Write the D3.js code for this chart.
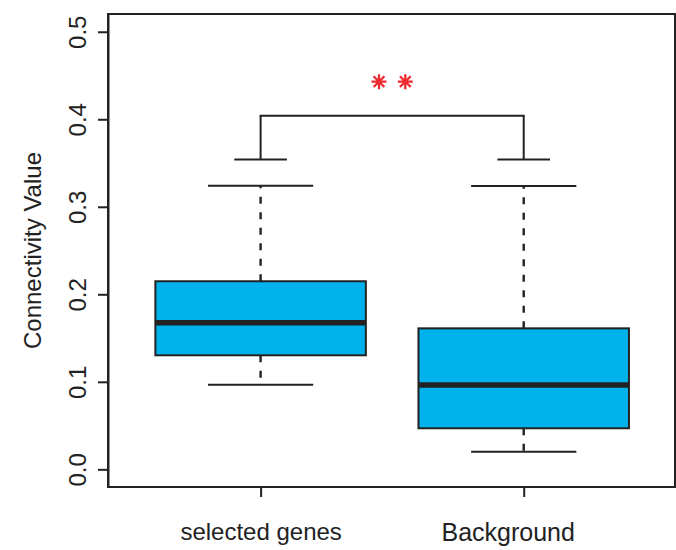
<!DOCTYPE html>
<html>
<head>
<meta charset="utf-8">
<script src="https://cdn.jsdelivr.net/npm/d3@7"></script>
<style>
  body { margin: 0; background: #fff; }
  text { font-family: "Liberation Sans", Arial, sans-serif; fill: #222; }
</style>
</head>
<body>
<div id="chart"></div>
<script>
// Boxplot summary per group
var groups = ['selected genes', 'Background'];
var whiskerLow = [0.0967, 0.0201];
var quart1 = [0.1303, 0.0469];
var medians = [0.1675, 0.0963];
var quart3 = [0.2149, 0.1611];
var whiskerHigh = [0.324, 0.3238];

// significance bracket
var bracketLegs = 0.354;
var bracketTop = 0.404;
var starLevel = 0.443;
var starPos = [1.45, 1.55];

var yTicks = [0, 0.1, 0.2, 0.3, 0.4, 0.5];

var o = {
    width: 676,
    height: 550,
    left: 108, right: 675, top: 14, bottom: 487
};

var svg = d3.select('#chart')
    .append('svg')
    .attr('width', o.width)
    .attr('height', o.height);

var x = d3.scaleLinear()
    .domain([0.42, 2.575])
    .range([o.left, o.right]);

var y = d3.scaleLinear()
    .domain([-0.0202, 0.5203])
    .range([o.bottom, o.top]);

var ink = '#222';
var boxW = 0.8, capW = 0.4, legW = 0.2;

var boxes = svg.append('g');

groups.forEach(function(name, i) {
    var cx = i + 1;
    var g = boxes.append('g');

    // dashed whiskers
    g.append('line')
        .attr('x1', x(cx)).attr('x2', x(cx))
        .attr('y1', y(quart3[i])).attr('y2', y(whiskerHigh[i]))
        .attr('stroke', ink).attr('stroke-width', 2.4)
        .attr('stroke-dasharray', '7,8.5');
    g.append('line')
        .attr('x1', x(cx)).attr('x2', x(cx))
        .attr('y1', y(quart1[i])).attr('y2', y(whiskerLow[i]))
        .attr('stroke', ink).attr('stroke-width', 2.4)
        .attr('stroke-dasharray', '7,8.5');

    // staples
    [whiskerLow[i], whiskerHigh[i]].forEach(function(v) {
        g.append('line')
            .attr('x1', x(cx - capW / 2)).attr('x2', x(cx + capW / 2))
            .attr('y1', y(v)).attr('y2', y(v))
            .attr('stroke', ink).attr('stroke-width', 2);
    });

    g.append('rect')
        .attr('x', x(cx - boxW / 2))
        .attr('width', x(cx + boxW / 2) - x(cx - boxW / 2))
        .attr('y', y(quart3[i]))
        .attr('height', y(quart1[i]) - y(quart3[i]))
        .attr('fill', '#00B2EB')
        .attr('stroke', ink).attr('stroke-width', 2);

    g.append('line')
        .attr('x1', x(cx - boxW / 2)).attr('x2', x(cx + boxW / 2))
        .attr('y1', y(medians[i])).attr('y2', y(medians[i]))
        .attr('stroke', ink).attr('stroke-width', 5.5);

    // bracket legs
    g.append('line')
        .attr('x1', x(cx - legW / 2)).attr('x2', x(cx + legW / 2))
        .attr('y1', y(bracketLegs)).attr('y2', y(bracketLegs))
        .attr('stroke', ink).attr('stroke-width', 2);
    g.append('line')
        .attr('x1', x(cx)).attr('x2', x(cx))
        .attr('y1', y(bracketLegs)).attr('y2', y(bracketTop))
        .attr('stroke', ink).attr('stroke-width', 2);
});

svg.append('line')
    .attr('x1', x(1) - 1).attr('x2', x(2) + 1)
    .attr('y1', y(bracketTop)).attr('y2', y(bracketTop))
    .attr('stroke', ink).attr('stroke-width', 2);

// red stars (R pch 8 style: plus + cross)
var r = 7.5;
starPos.forEach(function(p) {
    var sx = x(p), sy = y(starLevel);
    var path = 'M' + (sx - r) + ',' + sy + 'H' + (sx + r) +
        'M' + sx + ',' + (sy - r) + 'V' + (sy + r) +
        'M' + (sx - r * 0.72) + ',' + (sy - r * 0.72) + 'L' + (sx + r * 0.72) + ',' + (sy + r * 0.72) +
        'M' + (sx - r * 0.72) + ',' + (sy + r * 0.72) + 'L' + (sx + r * 0.72) + ',' + (sy - r * 0.72);
    svg.append('path')
        .attr('d', path)
        .attr('stroke', '#EE2A2F')
        .attr('stroke-width', 2.3)
        .attr('fill', 'none');
});

// frame
svg.append('rect')
    .attr('x', o.left).attr('y', o.top)
    .attr('width', o.right - o.left).attr('height', o.bottom - o.top)
    .attr('fill', 'none').attr('stroke', ink).attr('stroke-width', 2);

// y axis
var yAxis = svg.append('g')
    .attr('transform', 'translate(' + o.left + ',0)')
    .call(d3.axisLeft(y).tickValues(yTicks).tickSize(10).tickSizeOuter(0)
        .tickFormat(d3.format('.1f')));
yAxis.selectAll('path, line').attr('stroke', ink).attr('stroke-width', 2);
yAxis.selectAll('text')
    .attr('font-size', 24)
    .attr('fill', ink)
    .attr('text-anchor', 'middle')
    .attr('dy', null)
    .attr('x', null)
    .attr('transform', 'translate(-31,0) rotate(-90)')
    .attr('dominant-baseline', 'central');

// x axis
var xAxis = svg.append('g')
    .attr('transform', 'translate(0,' + o.bottom + ')')
    .call(d3.axisBottom(x).tickValues([1, 2]).tickSize(10).tickSizeOuter(0)
        .tickFormat(function(d) { return groups[d - 1]; }));
xAxis.select('.domain').remove();
xAxis.selectAll('line').attr('stroke', ink).attr('stroke-width', 2);
xAxis.selectAll('text')
    .attr('font-size', function(d) { return d === 2 ? 25 : 24; })
    .attr('fill', ink)
    .attr('y', 36)
    .attr('dy', '0.71em')
    // in the original the second label sits a little left of its tick
    .attr('dx', function(d) { return d === 2 ? -16 : 0; });

svg.append('text')
    .attr('transform', 'translate(41,' + ((o.top + o.bottom) / 2) + ') rotate(-90)')
    .attr('text-anchor', 'middle')
    .attr('font-size', 24)
    .text('Connectivity Value');
</script>
</body>
</html>
